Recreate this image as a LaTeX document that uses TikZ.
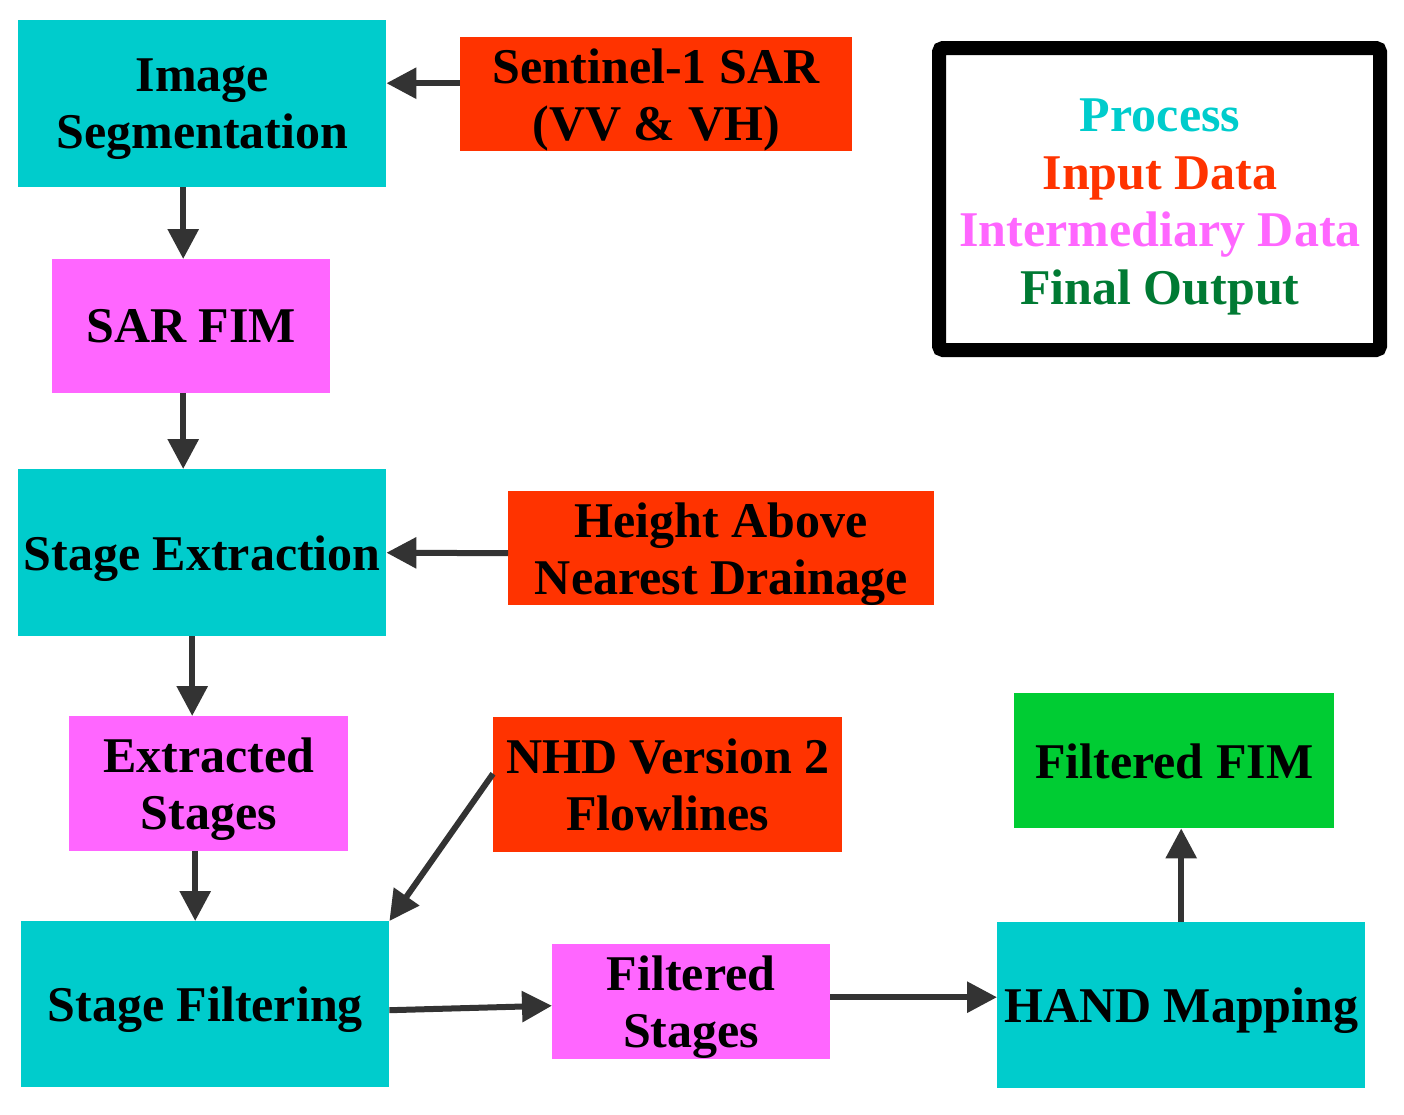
\documentclass[tikz,border=0pt]{standalone}
\usepackage{fontspec}
\setmainfont{Liberation Serif}
\usetikzlibrary{arrows.meta,calc}
\definecolor{proc}{RGB}{0,204,204}
\definecolor{inp}{RGB}{255,51,0}
\definecolor{inter}{RGB}{255,102,255}
\definecolor{fin}{RGB}{0,204,51}
\definecolor{findark}{RGB}{0,122,51}
\definecolor{arr}{RGB}{51,51,51}
\tikzset{
  box/.style={anchor=north west, inner sep=0pt, align=center, text depth=0pt,
    font=\fontsize{50}{57}\selectfont\bfseries},
  procbox/.style={box, fill=proc},
  inbox/.style={box, fill=inp},
  interbox/.style={box, fill=inter},
  finbox/.style={box, fill=fin},
  conn/.style={draw=arr, line width=6pt, -{Triangle[length=30pt,width=30pt]}},
}
\begin{document}
\begin{tikzpicture}[x=1pt,y=-1pt]
\useasboundingbox (0,0) rectangle (1404,1114);
% nodes
\node[procbox, minimum width=368pt, minimum height=167pt] (seg) at (18,20) {Image\\Segmentation};
\node[inbox, minimum width=392pt, minimum height=114pt] (sen) at (460,37) {Sentinel-1 SAR\\(VV \& VH)};
\node[interbox, minimum width=278pt, minimum height=134pt] (sar) at (52,259) {SAR FIM};
\node[procbox, minimum width=368pt, minimum height=167pt] (se) at (18,469) {Stage Extraction};
\node[inbox, minimum width=426pt, minimum height=114pt] (hand) at (508,491) {Height Above\\Nearest Drainage};
\node[interbox, minimum width=279pt, minimum height=135pt] (ex) at (69,716) {Extracted\\Stages};
\node[inbox, minimum width=349pt, minimum height=135pt] (nhd) at (493,717) {NHD Version 2\\Flowlines};
\node[finbox, minimum width=320pt, minimum height=135pt] (ffim) at (1014,693) {Filtered FIM};
\node[procbox, minimum width=368pt, minimum height=166pt] (sf) at (21,921) {Stage Filtering};
\node[interbox, minimum width=278pt, minimum height=115pt] (fs) at (552,944) {Filtered\\Stages};
\node[procbox, minimum width=368pt, minimum height=166pt] (hm) at (997,922) {HAND Mapping};
% legend
\draw[line width=14pt, rounded corners=4pt] (939,48) rectangle (1380,350);
\node[inner sep=0pt, align=center, font=\fontsize{50}{57.5}\selectfont\bfseries] (leg) at (1160,207)
  {\textcolor{proc}{Process}\\\textcolor{inp}{Input Data}\\\textcolor{inter}{Intermediary Data}\\\textcolor{findark}{Final Output}};
% connectors
\draw[conn] ([yshift=11pt]sen.west) -- ([yshift=20.5pt]seg.east);
\draw[conn] ([xshift=-19pt]seg.south) -- ([xshift=-8pt]sar.north);
\draw[conn] ([xshift=-8pt]sar.south) -- ([xshift=-19pt]se.north);
\draw[conn] ([yshift=-5pt]hand.west) -- (se.east);
\draw[conn] ([xshift=-10pt]se.south) -- ([xshift=-16.5pt]ex.north);
\draw[conn] ([xshift=-13.5pt]ex.south) -- ([xshift=-10pt]sf.north);
\draw[conn] ([yshift=11pt]nhd.west) -- (sf.north east);
\draw[conn] ([yshift=-6pt]sf.east) -- ([yshift=-4pt]fs.west);
\draw[conn] ([yshift=4.5pt]fs.east) -- ([yshift=8pt]hm.west);
\draw[conn] (hm.north) -- ([xshift=7pt]ffim.south);
\end{tikzpicture}
\end{document}
